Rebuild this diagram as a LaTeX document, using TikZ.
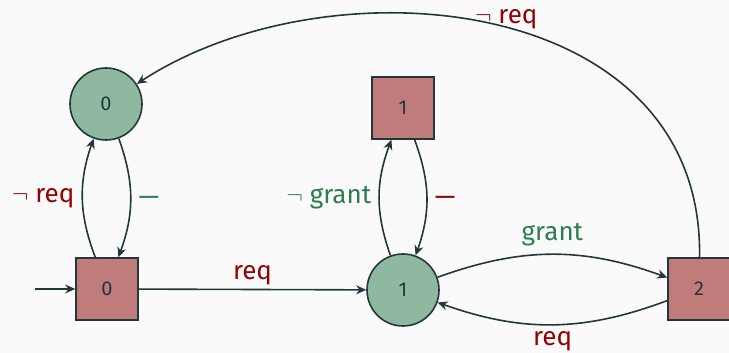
\documentclass[tikz,border=0pt]{standalone}
\usepackage{fontspec}
\setmainfont{Fira Sans}
\usetikzlibrary{arrows.meta}
\definecolor{DarkTeal}{RGB}{35,55,59}
\definecolor{PageGrey}{RGB}{250,250,250}
\definecolor{EveFill}{RGB}{143,184,160}
\definecolor{AdamFill}{RGB}{192,123,123}
\definecolor{ReqRed}{RGB}{150,0,0}
\definecolor{GrantGreen}{RGB}{45,125,80}

\begin{document}
\begin{tikzpicture}[x=1pt,y=1pt,
    every node/.style={font=\fontsize{20}{24}\selectfont, text=DarkTeal},
    evenode/.style={circle, draw=DarkTeal, line width=1.6pt, fill=EveFill, minimum size=72pt, inner sep=0pt},
    adamnode/.style={rectangle, draw=DarkTeal, line width=1.6pt, fill=AdamFill, minimum size=62pt, inner sep=0pt},
    move/.style={-{Stealth[length=10pt,width=9pt]}, line width=1.6pt, DarkTeal},
    redlab/.style={font=\fontsize{26}{30}\selectfont, text=ReqRed},
    greenlab/.style={font=\fontsize{26}{30}\selectfont, text=GrantGreen}]
  \fill[PageGrey] (0,0) rectangle (729,353);
  \useasboundingbox (0,0) rectangle (729,353);

  \node[evenode] (c0) at (106,249) {0};
  \node[adamnode] (b0) at (107,64) {0};
  \node[adamnode] (b1) at (403,245) {1};
  \node[evenode] (c1) at (403,63) {1};
  \node[adamnode] (b2) at (699,64) {2};
  \coordinate (init) at (35,64);

  \draw[move] (init) -- (b0);
  \draw[move] (b0) -- node[redlab, above] {req} (c1);
  \draw[move] (b0) to[bend left=20] node[redlab, left, xshift=-4pt] {$\neg$\ req} (c0);
  \draw[move] (c0) to[bend left=20] node[greenlab, right, xshift=4pt, yshift=-3pt] {—} (b0);
  \draw[move] (c1) to[bend left=20] node[greenlab, left, xshift=-4pt] {$\neg$\ grant} (b1);
  \draw[move] (b1) to[bend left=20] node[redlab, right, xshift=4pt, yshift=-3pt] {—} (c1);
  \draw[move] (c1) to[bend left=20] node[greenlab, above, yshift=4pt] {grant} (b2);
  \draw[move] (b2) to[bend left=20] node[redlab, below, yshift=-3pt] {req} (c1);
  \draw[move] (b2) .. controls (704,360) and (330,395) .. node[redlab, pos=0.48, above, yshift=-6pt] {$\neg$\ req} (c0);
\end{tikzpicture}
\end{document}
